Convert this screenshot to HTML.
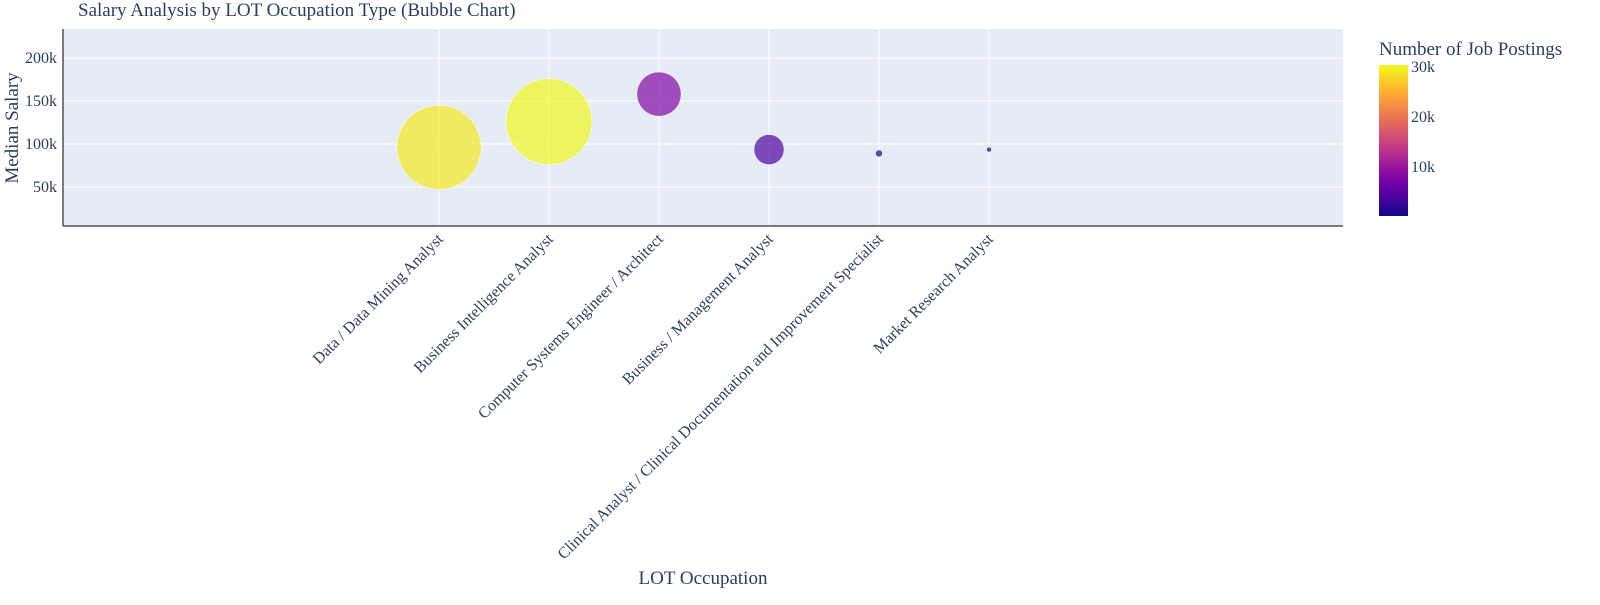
<!DOCTYPE html>
<html><head><meta charset="utf-8"><style>
body{margin:0;background:#fff;}
svg{font-family:"Liberation Serif",serif;fill:#2a3f5f;}
</style></head><body>
<svg width="1600" height="600" id="chart">
<defs><linearGradient id="plasma" x1="0" y1="1" x2="0" y2="0">
<stop offset="0" stop-color="#0d0887"/><stop offset="0.111" stop-color="#46039f"/><stop offset="0.222" stop-color="#7201a8"/><stop offset="0.333" stop-color="#9c179e"/><stop offset="0.444" stop-color="#bd3786"/><stop offset="0.556" stop-color="#d8576b"/><stop offset="0.667" stop-color="#ed7953"/><stop offset="0.778" stop-color="#fb9f3a"/><stop offset="0.889" stop-color="#fdca26"/><stop offset="1" stop-color="#f0f921"/></linearGradient></defs>
<text x="78" y="16" font-size="19">Salary Analysis by LOT Occupation Type (Bubble Chart)</text>
<rect x="63" y="29" width="1280" height="197" fill="#E5ECF6"/>
<g id="grid"></g><g id="marks"></g><g id="labels"></g>
<line x1="63" y1="29" x2="63" y2="226" stroke="#000"/>
<line x1="63" y1="226" x2="1343" y2="226" stroke="#000"/>
<text transform="translate(18,128) rotate(-90)" text-anchor="middle" font-size="19">Median Salary</text>
<text x="703" y="584" text-anchor="middle" font-size="19">LOT Occupation</text>
<text x="1379" y="55" font-size="19">Number of Job Postings</text>
<rect x="1379" y="65" width="29" height="151" fill="url(#plasma)"/>
<g id="cbticks"></g>
</svg>
<script>
const categories=["Data / Data Mining Analyst","Business Intelligence Analyst","Computer Systems Engineer / Architect","Business / Management Analyst","Clinical Analyst / Clinical Documentation and Improvement Specialist","Market Research Analyst"];
const salaries=[96000,126000,158000,93500,89000,93500];
const counts=[29000,30200,8000,3700,200,100];
const yTicks=[50000,100000,150000,200000];
const yTickLabels=["50k","100k","150k","200k"];
const cTicks=[10000,20000,30000];
const cTickLabels=["10k","20k","30k"];
const ns="http://www.w3.org/2000/svg";
const yMin=4650,yMax=233700,pTop=29,pBot=226;
const y=v=>pBot-(v-yMin)/(yMax-yMin)*(pBot-pTop);
const x=i=>439+i*110;
const cMax=30200,cb0=216,cb1=65;
const cy=v=>cb0-v/cMax*(cb0-cb1);
const stops=["#0d0887","#46039f","#7201a8","#9c179e","#bd3786","#d8576b","#ed7953","#fb9f3a","#fdca26","#f0f921"];
function hex(h){return [1,3,5].map(k=>parseInt(h.substr(k,2),16));}
function color(v){let t=Math.max(0,Math.min(1,v/cMax))*(stops.length-1);let i=Math.min(Math.floor(t),stops.length-2),f=t-i;const a=hex(stops[i]),b=hex(stops[i+1]);return "rgb("+a.map((c,k)=>Math.round(c+(b[k]-c)*f)).join(",")+")";}
function mk(tag,attrs,parent){const e=document.createElementNS(ns,tag);for(const k in attrs)e.setAttribute(k,attrs[k]);document.getElementById(parent).appendChild(e);return e;}
const maxC=Math.max(...counts);
yTicks.forEach((t,i)=>{
 const l=mk("line",{x1:63,x2:1343,y1:y(t),y2:y(t),stroke:"#fff","stroke-width":1},"grid");
 
 
 const tx=mk("text",{x:57,y:y(t)+5,"text-anchor":"end","font-size":16},"grid");tx.textContent=yTickLabels[i];
 
 
});
categories.forEach((c,i)=>{
 const l=mk("line",{x1:x(i),x2:x(i),y1:pTop,y2:pBot,stroke:"#fff","stroke-width":1},"grid");
 
 
 const r=Math.max(2.5,43*Math.sqrt(counts[i]/maxC));
 const b=mk("circle",{cx:x(i),cy:y(salaries[i]),r:r,fill:color(counts[i]),"fill-opacity":0.7,stroke:"#fff","stroke-width":0.5},"marks");
 
 
 const tx=mk("text",{transform:"translate("+(x(i)+5)+",240) rotate(-45)","text-anchor":"end","font-size":16},"labels");tx.textContent=c;
 
 
});
cTicks.forEach((t,i)=>{
 const tx=mk("text",{x:1411,y:cy(t)+6,"font-size":16},"cbticks");tx.textContent=cTickLabels[i];
 
 
});
</script>
</body></html>
